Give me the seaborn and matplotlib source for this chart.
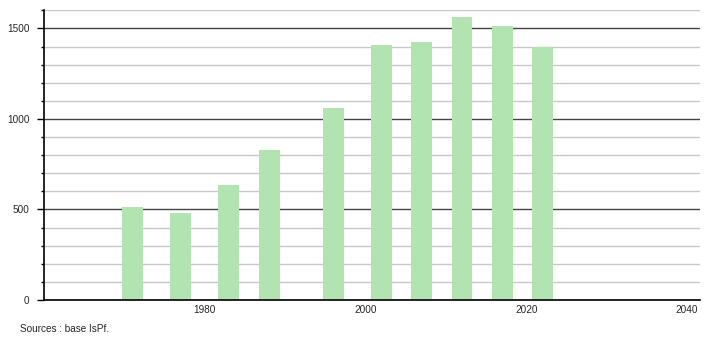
import matplotlib
matplotlib.use("Agg")
import matplotlib.pyplot as plt
import seaborn as sns
import pandas as pd
from matplotlib.ticker import MultipleLocator

years = [1971, 1977, 1983, 1988, 1996, 2002, 2007, 2012, 2017, 2022]
values = [515, 482, 633, 830, 1063, 1406, 1423, 1561, 1512, 1397]
xtick_values = [1980, 2000, 2020, 2040]
source_text = "Sources : base IsPf."

sns.set_style("white")
plt.rcParams['font.family'] = ['Liberation Sans', 'DejaVu Sans']

df = pd.DataFrame({"year": years, "value": values})

fig = plt.figure(figsize=(7.1, 3.4), dpi=100)
ax = fig.add_axes([44/710, 1 - 300/340, (700 - 44)/710, (300 - 10.3)/340])

sns.barplot(data=df, x="year", y="value", native_scale=True, width=0.52,
            color="#b1e4b1", saturation=1, errorbar=None, ax=ax,
            edgecolor="none", linewidth=0)

ax.set_xlim(1960, 2041.6)
ax.set_ylim(0, 1600)
ax.set_xticks(xtick_values)
ax.set_xticklabels([str(v) for v in xtick_values])
ax.yaxis.set_major_locator(MultipleLocator(500))
ax.yaxis.set_minor_locator(MultipleLocator(100))
ax.set_axisbelow(True)
ax.grid(which="major", axis="y", color="#444444", linewidth=1.0)
ax.grid(which="minor", axis="y", color="#c8c8c8", linewidth=1.0)
ax.grid(False, axis="x")

for s in ["top", "right"]:
    ax.spines[s].set_visible(False)
ax.spines["left"].set_color("black")
ax.spines["left"].set_linewidth(1.2)
ax.spines["bottom"].set_color("black")
ax.spines["bottom"].set_linewidth(1.2)

ax.tick_params(axis="y", which="major", length=5, width=1, color="black",
               labelsize=7.2, pad=5.5, left=True)
ax.tick_params(axis="y", which="minor", length=2.5, width=1, color="black", left=True)
ax.tick_params(axis="x", which="both", length=0, labelsize=7.2, pad=3.5)
ax.set_xlabel("")
ax.set_ylabel("")

fig.text(20/710, 1 - 329/340, source_text, fontsize=7.2, va="center", ha="left")

fig.savefig("out.png", dpi=100)
